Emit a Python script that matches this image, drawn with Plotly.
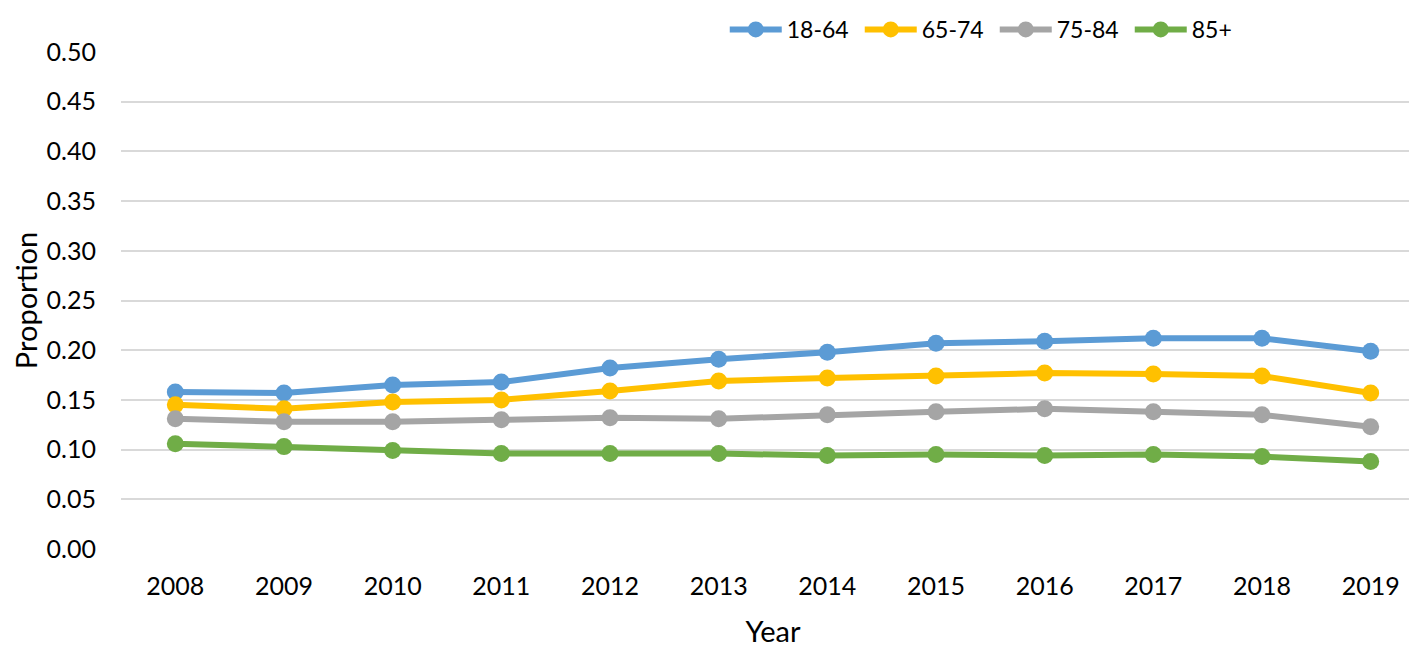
import plotly.graph_objects as go

years = ["2008", "2009", "2010", "2011", "2012", "2013", "2014", "2015", "2016", "2017", "2018", "2019"]
age_18_64 = [0.158, 0.157, 0.165, 0.168, 0.182, 0.191, 0.198, 0.207, 0.209, 0.212, 0.212, 0.199]
age_65_74 = [0.145, 0.141, 0.148, 0.150, 0.159, 0.169, 0.172, 0.174, 0.177, 0.176, 0.174, 0.157]
age_75_84 = [0.131, 0.128, 0.128, 0.130, 0.132, 0.131, 0.135, 0.138, 0.141, 0.138, 0.135, 0.123]
age_85p = [0.106, 0.103, 0.099, 0.096, 0.096, 0.096, 0.094, 0.095, 0.094, 0.095, 0.093, 0.088]

series = [
    ("18-64", age_18_64, "#5b9bd5"),
    ("65-74", age_65_74, "#ffc000"),
    ("75-84", age_75_84, "#a5a5a5"),
    ("85+", age_85p, "#70ad47"),
]

font_family = "Lato, 'Open Sans', sans-serif"

fig = go.Figure()
for name, vals, color in series:
    fig.add_trace(go.Scatter(
        x=years, y=vals, name=name, mode="lines+markers",
        line=dict(color=color, width=6),
        marker=dict(color=color, size=17),
    ))

fig.update_layout(
    width=1417, height=646,
    margin=dict(l=113, r=0, t=44, b=105, autoexpand=False),
    paper_bgcolor="white", plot_bgcolor="white",
    font=dict(family=font_family, size=25, color="#000000"),
    legend=dict(orientation="h", xref="paper", yref="paper",
                x=0.463, xanchor="left", y=1.0885, yanchor="top",
                font=dict(size=23), itemwidth=52, entrywidth=68, entrywidthmode="pixels",
                bgcolor="rgba(0,0,0,0)", tracegroupgap=0),
    showlegend=True,
    xaxis=dict(type="category", range=[-0.5, 11.5], showgrid=False, zeroline=False,
               showline=False, ticks="", tickfont=dict(size=25), automargin=False,
               ticklabelstandoff=20,
               title=dict(text="Year", font=dict(size=29), standoff=22)),
    yaxis=dict(range=[0, 0.5], dtick=0.05, tickformat=".2f", showgrid=True,
               gridcolor="#d9d9d9", gridwidth=2, zeroline=False, showline=False,
               ticks="", tickfont=dict(size=25), ticklabelstandoff=24, automargin=False,
               title=dict(text="Proportion", font=dict(size=29), standoff=12)),
)

fig.write_html("out.html")
